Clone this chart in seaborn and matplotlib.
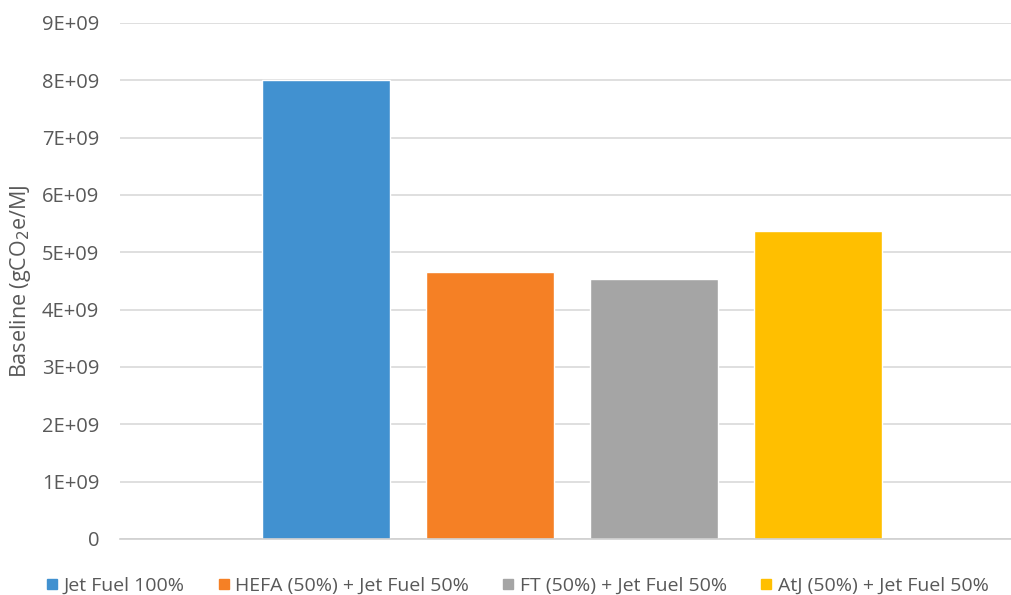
import matplotlib
matplotlib.use("Agg")
import matplotlib.pyplot as plt
import seaborn as sns
import pandas as pd
from matplotlib.lines import Line2D
from matplotlib.ticker import FixedLocator

# Emissions baseline per fuel blend
series = ["Jet Fuel 100%", "HEFA (50%) + Jet Fuel 50%",
          "FT (50%) + Jet Fuel 50%", "AtJ (50%) + Jet Fuel 50%"]
values = [8.0e9, 4.66e9, 4.54e9, 5.38e9]
colors = ["#4191D0", "#F58025", "#A5A5A5", "#FFBF00"]
y_ticks = [0, 1e9, 2e9, 3e9, 4e9, 5e9, 6e9, 7e9, 8e9, 9e9]
y_tick_labels = ["0", "1E+09", "2E+09", "3E+09", "4E+09",
                 "5E+09", "6E+09", "7E+09", "8E+09", "9E+09"]

sns.set_theme(style="white")
plt.rcParams["font.family"] = ["Open Sans", "DejaVu Sans"]
text_color = "#595959"

df = pd.DataFrame({"group": ["Baseline"] * len(series),
                   "series": series, "value": values})

fig = plt.figure(figsize=(10.12, 5.95), dpi=100)
ax = fig.add_axes([120 / 1012, 56 / 595, 904 / 1012, 516 / 595])

sns.barplot(data=df, x="group", y="value", hue="series",
            hue_order=series, palette=colors, width=0.726, gap=0.22,
            saturation=1, legend=False, ax=ax)

ax.set_xlim(-0.5, 0.5)
ax.set_ylim(0, 9e9)
ax.yaxis.set_major_locator(FixedLocator(y_ticks))
ax.set_yticklabels(y_tick_labels)
ax.set_xticks([])
ax.set_xlabel("")
ax.set_ylabel("Baseline (gCO$_2$e/MJ", color=text_color, fontsize=15.5,
              labelpad=6)
ax.tick_params(axis="y", colors=text_color, labelsize=14.5, length=0, pad=15)

ax.grid(axis="y", color="#D9D9D9", linewidth=1.2)
ax.set_axisbelow(True)
for side in ["top", "right", "left"]:
    ax.spines[side].set_visible(False)
ax.spines["bottom"].set_color("#D0D0D0")
ax.spines["bottom"].set_linewidth(1.2)

handles = [Line2D([0], [0], marker="s", linestyle="none", markersize=7.5,
                  markerfacecolor=c, markeredgecolor=c) for c in colors]
fig.legend(handles, series, loc="center", bbox_to_anchor=(516 / 1012, 9 / 595),
           ncol=4, frameon=False, fontsize=14, labelcolor=text_color,
           handletextpad=0.15, columnspacing=1.55, handlelength=0.9)

fig.savefig("out.png", dpi=100, facecolor="white")
